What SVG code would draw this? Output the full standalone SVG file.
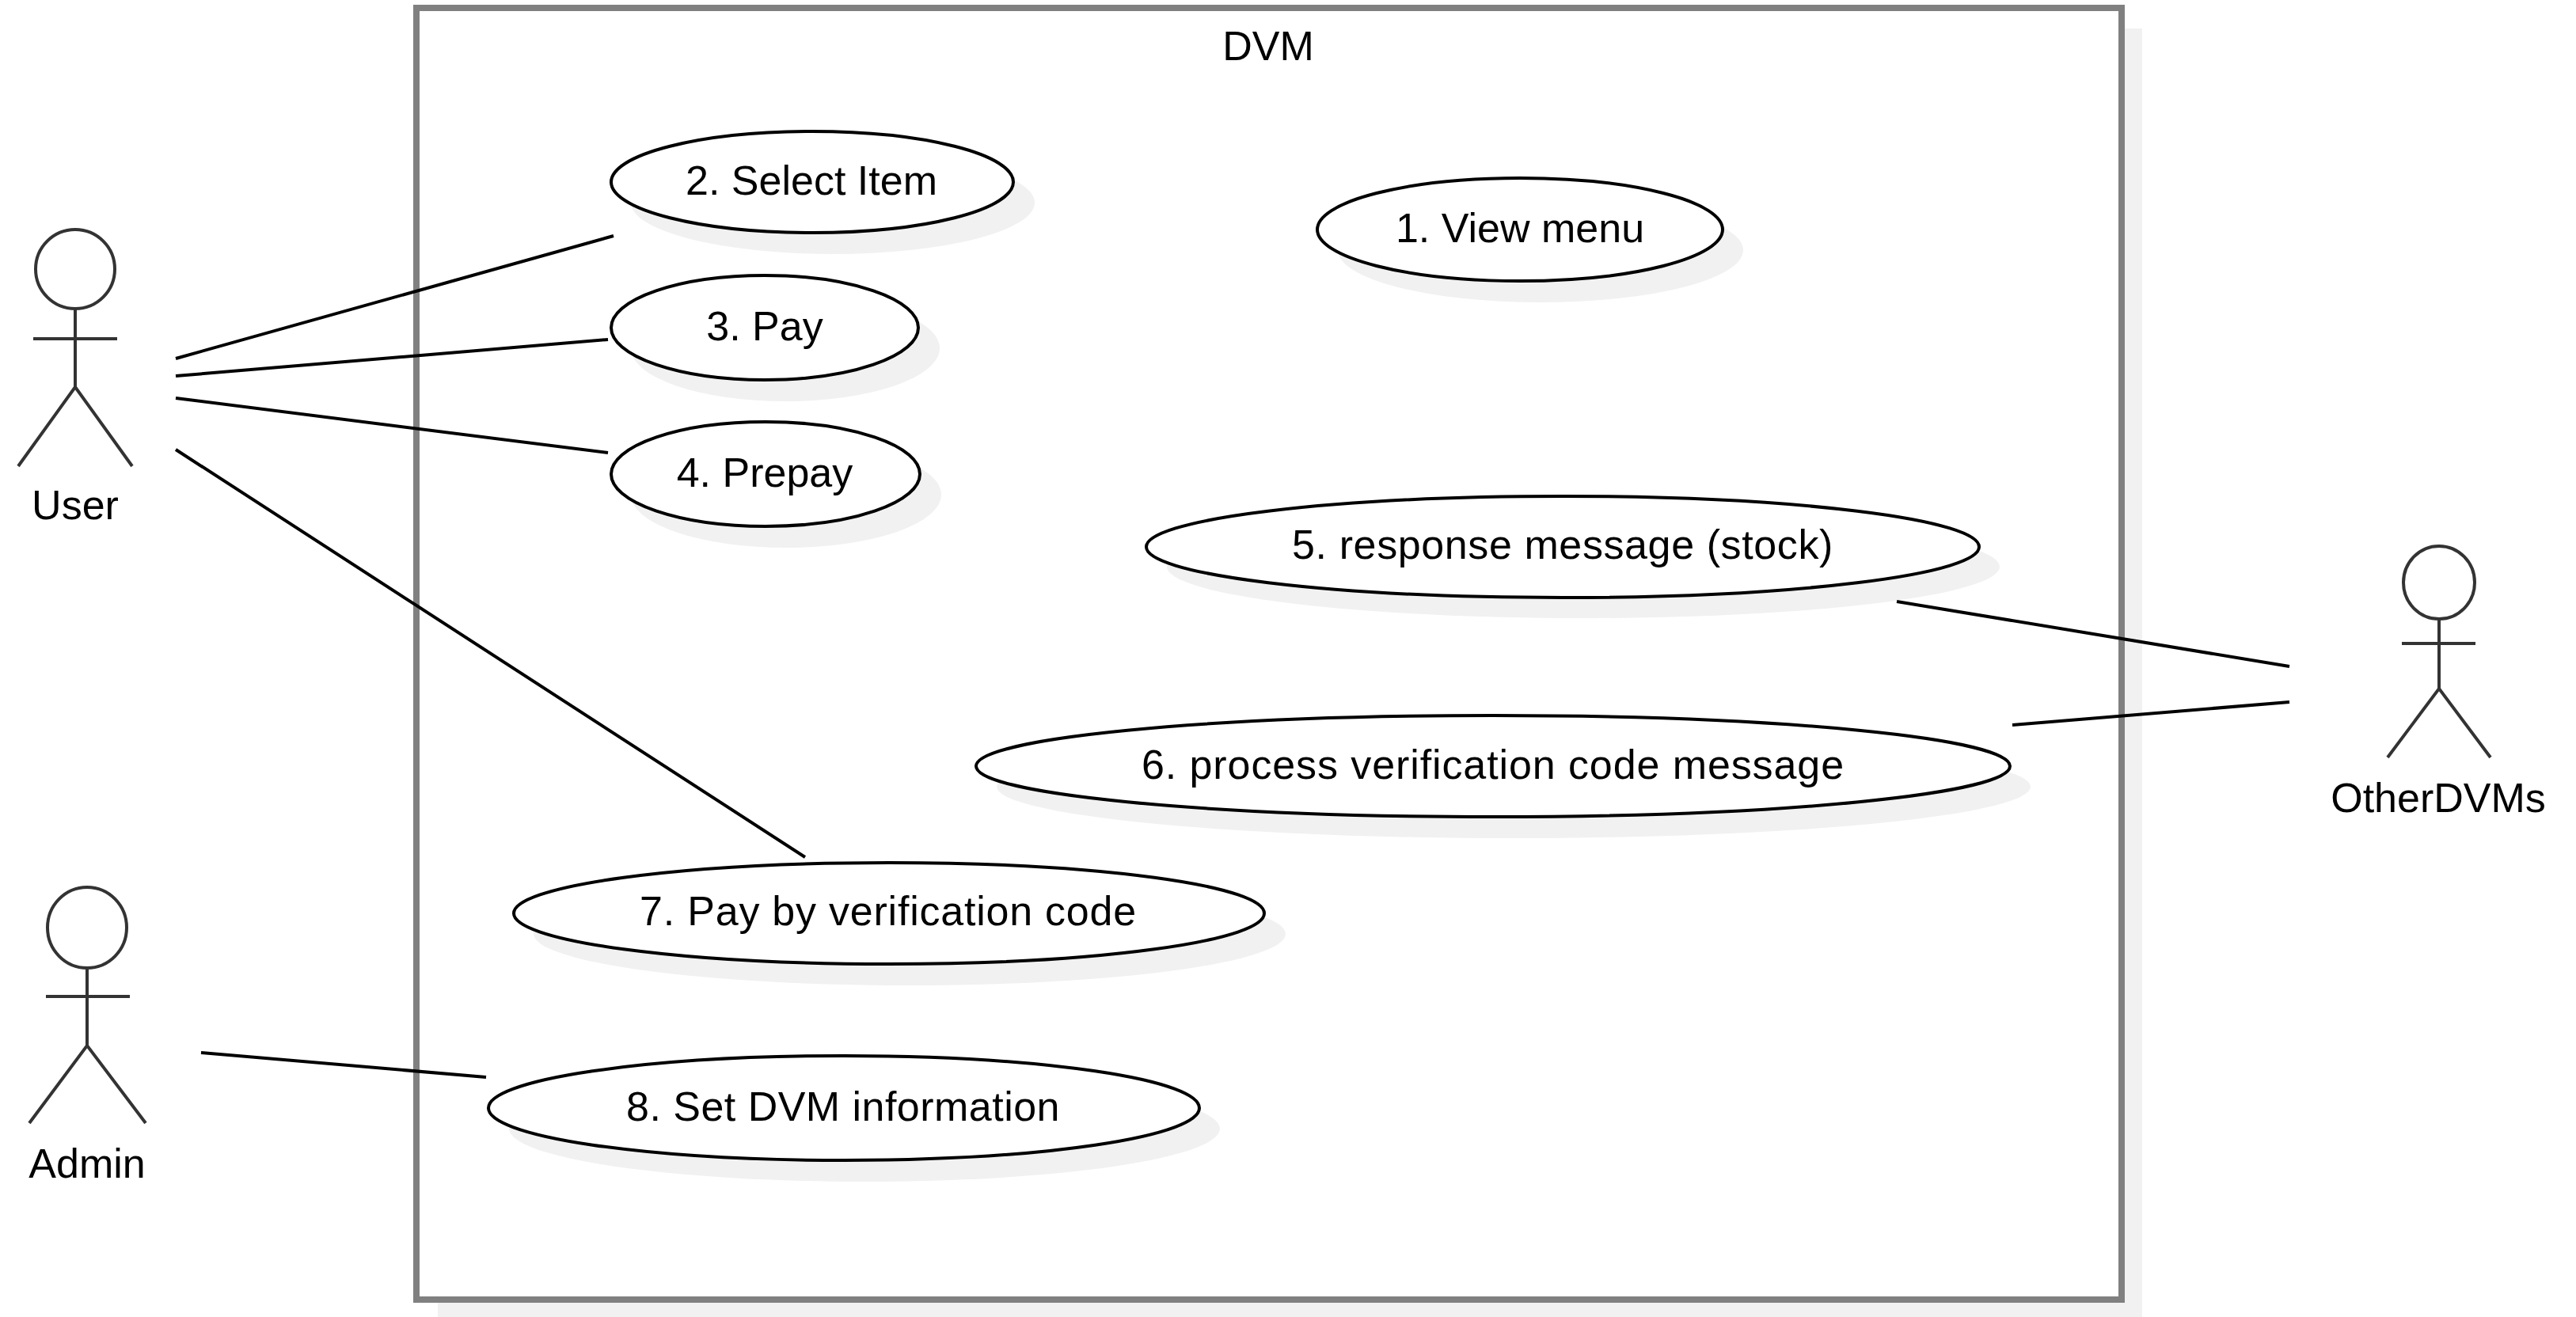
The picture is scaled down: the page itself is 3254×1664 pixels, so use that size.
<svg xmlns="http://www.w3.org/2000/svg" width="3254" height="1664" viewBox="0 0 3254 1664">
<style>
text{font-family:"Liberation Sans",Arial,sans-serif;font-size:52px;fill:#000;text-anchor:middle}
.box{fill:#fff;stroke:#808080;stroke-width:8}
.sh{fill:#f1f1f1}
.uc{fill:#fff;stroke:#000;stroke-width:4}
.a{fill:none;stroke:#333;stroke-width:4}
.c{fill:none;stroke:#000;stroke-width:4}
</style>
<g id="system">
<rect class="sh" x="553" y="36" width="2153" height="1632"/>
<rect class="box" x="526" y="10" width="2154" height="1632"/>
<text x="1602" y="76">DVM</text>
</g>
<g id="shadows">
<ellipse class="sh" cx="1052" cy="256" rx="255" ry="65"/>
<ellipse class="sh" cx="992" cy="440" rx="195" ry="67"/>
<ellipse class="sh" cx="993" cy="625" rx="196" ry="67"/>
<ellipse class="sh" cx="1946" cy="316" rx="256" ry="66"/>
<ellipse class="sh" cx="2000" cy="716" rx="526" ry="65"/>
<ellipse class="sh" cx="1912" cy="994" rx="653" ry="65"/>
<ellipse class="sh" cx="1149" cy="1180" rx="475" ry="65"/>
<ellipse class="sh" cx="1092" cy="1426" rx="449" ry="67"/>
</g>
<g id="uc2"><ellipse class="uc" cx="1026" cy="230" rx="254" ry="64"/><text x="1025" y="246">2. Select Item</text></g>
<g id="uc3"><ellipse class="uc" cx="966" cy="414" rx="194" ry="66"/><text x="966" y="430">3. Pay</text></g>
<g id="uc4"><ellipse class="uc" cx="967" cy="599" rx="195" ry="66"/><text x="966" y="615">4. Prepay</text></g>
<g id="uc1"><ellipse class="uc" cx="1920" cy="290" rx="256" ry="65"/><text x="1920" y="306">1. View menu</text></g>
<g id="uc5"><ellipse class="uc" cx="1974" cy="691" rx="526" ry="64"/><text x="1974" y="706" letter-spacing="0.6">5. response message (stock)</text></g>
<g id="uc6"><ellipse class="uc" cx="1886" cy="968" rx="653" ry="64"/><text x="1886" y="984" letter-spacing="0.9">6. process verification code message</text></g>
<g id="uc7"><ellipse class="uc" cx="1123" cy="1154" rx="474" ry="64"/><text x="1122" y="1169" letter-spacing="0.77">7. Pay by verification code</text></g>
<g id="uc8"><ellipse class="uc" cx="1066" cy="1400" rx="449" ry="66"/><text x="1065" y="1416" letter-spacing="0.47">8. Set DVM information</text></g>
<g id="user">
<ellipse class="a" cx="95" cy="340" rx="50" ry="50"/>
<path class="a" d="M95 390V489M42 428H148M23 589L95 489L167 589"/>
<text x="95" y="656">User</text>
</g>
<g id="admin">
<ellipse class="a" cx="110" cy="1172" rx="50" ry="51"/>
<path class="a" d="M110 1223V1321M58 1259H164M37 1419L110 1321L184 1419"/>
<text x="110" y="1488">Admin</text>
</g>
<g id="otherdvms">
<ellipse class="a" cx="3081" cy="736" rx="45" ry="46"/>
<path class="a" d="M3081 782V870M3034 813H3127M3016 957L3081 870L3146 957"/>
<text x="3080" y="1026">OtherDVMs</text>
</g>
<g id="connectors">
<path class="c" d="M222 453L775 298"/>
<path class="c" d="M222 475L768 429"/>
<path class="c" d="M222 503L768 572"/>
<path class="c" d="M222 568L1017 1083"/>
<path class="c" d="M254 1330L614 1361"/>
<path class="c" d="M2396 760L2892 842"/>
<path class="c" d="M2542 916L2892 887"/>
</g>
</svg>
